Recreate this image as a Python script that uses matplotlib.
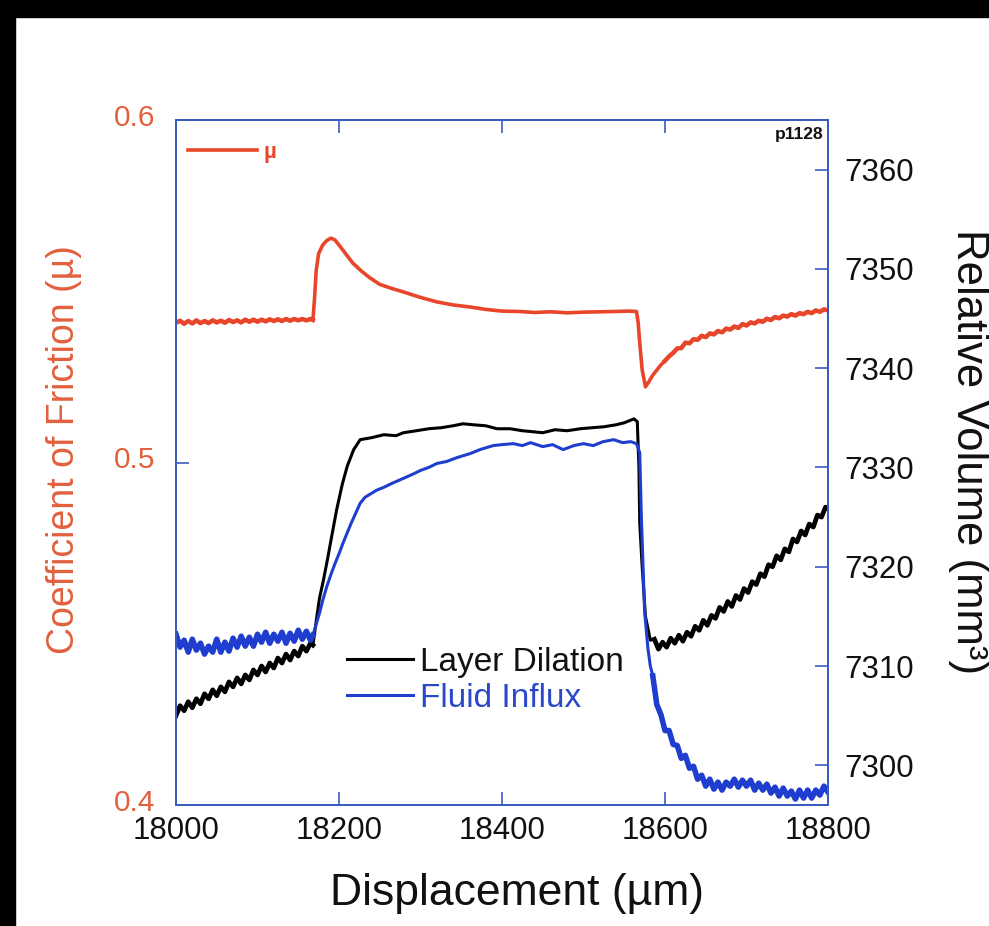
import matplotlib
matplotlib.use("Agg")
import matplotlib.pyplot as plt
from matplotlib.lines import Line2D
from matplotlib.patches import Rectangle
from matplotlib.transforms import ScaledTranslation

plt.rcParams['font.family'] = ['Liberation Sans', 'DejaVu Sans']

# --- friction coefficient (left axis) ---
mu_x = [18000, 18005, 18010, 18015, 18020, 18025, 18030, 18035, 18040, 18045,
        18050, 18055, 18060, 18065, 18070, 18075, 18080, 18085, 18090, 18095,
        18100, 18105, 18110, 18115, 18120, 18125, 18130, 18135, 18140, 18145,
        18150, 18155, 18160, 18165, 18168,
        18170, 18172, 18175, 18180, 18185, 18190, 18195, 18200, 18208, 18217,
        18228, 18238, 18250, 18265, 18279, 18300, 18320, 18340, 18361, 18380,
        18400, 18420, 18440, 18460, 18480, 18500, 18520, 18540, 18555, 18565,
        18567, 18569, 18572, 18576, 18580, 18585, 18590, 18595, 18600,
        18605, 18610, 18615, 18620, 18625, 18630, 18635, 18640, 18645, 18650,
        18655, 18660, 18665, 18670, 18675, 18680, 18685, 18690, 18695, 18700,
        18705, 18710, 18715, 18720, 18725, 18730, 18735, 18740, 18745, 18750,
        18755, 18760, 18765, 18770, 18775, 18780, 18785, 18790, 18795, 18800]
mu_y = [0.5408, 0.5414, 0.5405, 0.5413, 0.5406, 0.5415, 0.5407, 0.5413, 0.5407, 0.5415,
        0.5409, 0.5414, 0.5408, 0.5416, 0.5410, 0.5415, 0.5409, 0.5417, 0.5411, 0.5417,
        0.5411, 0.5417, 0.5412, 0.5418, 0.5413, 0.5418, 0.5413, 0.5419, 0.5414, 0.5419,
        0.5415, 0.5419, 0.5415, 0.5419, 0.5416,
        0.5480, 0.5560, 0.5610, 0.5635, 0.5648, 0.5655, 0.5650, 0.5635, 0.5610, 0.5582,
        0.5558, 0.5539, 0.5520, 0.5508, 0.5498, 0.5482, 0.5469, 0.5460, 0.5454, 0.5447,
        0.5442, 0.5441, 0.5438, 0.5440, 0.5437, 0.5439, 0.5440, 0.5441, 0.5442, 0.5441,
        0.5410, 0.5350, 0.5270, 0.5221, 0.5235, 0.5255, 0.5270, 0.5285, 0.5297,
        0.5310, 0.5320, 0.5333, 0.5334, 0.5350, 0.5348, 0.5360, 0.5358, 0.5370, 0.5366,
        0.5377, 0.5374, 0.5384, 0.5380, 0.5391, 0.5388, 0.5397, 0.5393, 0.5404, 0.5400,
        0.5409, 0.5406, 0.5414, 0.5411, 0.5420, 0.5416, 0.5425, 0.5421, 0.5429, 0.5426,
        0.5433, 0.5429, 0.5436, 0.5433, 0.5440, 0.5436, 0.5444, 0.5440, 0.5447, 0.5444]

# --- layer dilation (right axis) ---
dil_x = [18000, 18005, 18010, 18015, 18020, 18025, 18030, 18035, 18040, 18045,
         18050, 18055, 18060, 18065, 18070, 18075, 18080, 18085, 18090, 18095,
         18100, 18105, 18110, 18115, 18120, 18125, 18130, 18135, 18140, 18145,
         18150, 18155, 18160, 18165, 18168,
         18172, 18176, 18181, 18186, 18190, 18197, 18204, 18210, 18218, 18226,
         18240, 18255, 18270, 18279, 18295, 18310, 18325, 18340, 18352, 18365,
         18380, 18394, 18410, 18425, 18438, 18450, 18465, 18480, 18496, 18510,
         18525, 18540, 18550, 18562, 18566, 18568, 18569, 18572, 18576, 18582,
         18587, 18592, 18597, 18602, 18607, 18612, 18617, 18622, 18627, 18632,
         18637, 18642, 18647, 18652, 18657, 18662, 18667, 18672, 18677, 18682,
         18687, 18692, 18697, 18702, 18707, 18712, 18717, 18722, 18727, 18732,
         18737, 18742, 18747, 18752, 18757, 18762, 18767, 18772, 18777, 18782,
         18787, 18792, 18797, 18800]
dil_y = [7305.0, 7306.0, 7305.5, 7306.4, 7305.8, 7306.7, 7306.2, 7307.2, 7306.7, 7307.6,
         7307.0, 7307.9, 7307.4, 7308.4, 7307.9, 7308.8, 7308.2, 7309.1, 7308.6, 7309.6,
         7309.1, 7310.0, 7309.4, 7310.3, 7309.8, 7310.8, 7310.3, 7311.2, 7310.6, 7311.5,
         7311.0, 7312.0, 7311.5, 7312.3, 7312.1,
         7314.5, 7316.8, 7318.7, 7320.8, 7322.6, 7325.7, 7328.3, 7330.1, 7331.8, 7332.8,
         7333.0, 7333.3, 7333.2, 7333.5, 7333.7, 7333.9, 7334.0, 7334.2, 7334.4, 7334.3,
         7334.2, 7333.9, 7333.9, 7333.7, 7333.6, 7333.5, 7333.8, 7333.7, 7333.9, 7334.0,
         7334.1, 7334.3, 7334.5, 7334.9, 7334.6, 7330.0, 7324.4, 7320.0, 7315.0, 7312.6,
         7312.7, 7311.7, 7312.4, 7311.9, 7312.8, 7312.3, 7313.1, 7312.5, 7313.4, 7313.0,
         7314.0, 7313.6, 7314.6, 7314.1, 7315.1, 7314.8, 7315.9, 7315.5, 7316.5, 7316.0,
         7317.1, 7316.7, 7317.8, 7317.4, 7318.5, 7318.2, 7319.3, 7319.0, 7320.2, 7320.0,
         7321.1, 7320.7, 7321.8, 7321.5, 7322.8, 7322.5, 7323.6, 7323.2, 7324.3, 7324.0,
         7325.2, 7325.0, 7326.0, 7325.9]

# --- fluid influx (right axis) ---
flu_x = [18000, 18005, 18010, 18015, 18020, 18025, 18030, 18035, 18040, 18045,
         18050, 18055, 18060, 18065, 18070, 18075, 18080, 18085, 18090, 18095,
         18100, 18105, 18110, 18115, 18120, 18125, 18130, 18135, 18140, 18145,
         18150, 18155, 18160, 18165, 18168,
         18172, 18176, 18180, 18185, 18190, 18195, 18200, 18205, 18210, 18215,
         18220, 18226, 18232, 18240, 18246, 18255, 18265, 18279, 18290, 18300,
         18310, 18320, 18332, 18345, 18361, 18373, 18389, 18400, 18414, 18425,
         18435, 18450, 18462, 18475, 18488, 18500, 18512, 18524, 18537, 18548,
         18558, 18565, 18569, 18571, 18575, 18579, 18582,
         18585, 18590, 18595, 18600, 18605, 18610, 18615, 18620, 18625, 18630,
         18635, 18640, 18645, 18650, 18655, 18660, 18665, 18670, 18675, 18680,
         18685, 18690, 18695, 18700, 18705, 18710, 18715, 18720, 18725, 18730,
         18735, 18740, 18745, 18750, 18755, 18760, 18765, 18770, 18775, 18780,
         18785, 18790, 18795, 18800]
flu_y = [7313.2, 7311.9, 7312.6, 7311.4, 7312.7, 7311.6, 7312.3, 7311.2, 7312.0, 7311.4,
         7312.7, 7311.4, 7312.4, 7311.5, 7312.8, 7311.9, 7313.0, 7312.0, 7312.9, 7312.0,
         7313.2, 7312.4, 7313.4, 7312.3, 7313.2, 7312.5, 7313.4, 7312.3, 7313.3, 7312.5,
         7313.6, 7312.7, 7313.5, 7312.6, 7313.1,
         7314.2, 7315.3, 7316.6, 7318.0, 7319.2, 7320.3, 7321.3, 7322.4, 7323.4, 7324.4,
         7325.3, 7326.4, 7327.0, 7327.4, 7327.7, 7328.0, 7328.4, 7328.9, 7329.3, 7329.7,
         7330.0, 7330.4, 7330.6, 7331.0, 7331.4, 7331.8, 7332.2, 7332.3, 7332.4, 7332.2,
         7332.5, 7332.1, 7332.3, 7331.8, 7332.2, 7332.4, 7332.2, 7332.6, 7332.8, 7332.5,
         7332.6, 7332.4, 7331.5, 7325.0, 7315.5, 7311.8, 7310.0,
         7309.0, 7306.1, 7305.1, 7303.5, 7303.5, 7302.1, 7302.0, 7300.7, 7301.0, 7299.7,
         7299.9, 7298.6, 7299.0, 7297.9, 7298.6, 7297.6, 7298.3, 7297.5, 7298.3, 7297.9,
         7298.6, 7297.8, 7298.5, 7297.9, 7298.5, 7297.5, 7298.2, 7297.5, 7298.1, 7297.2,
         7297.8, 7296.9, 7297.7, 7296.9, 7297.4, 7296.6, 7297.5, 7296.7, 7297.5, 7296.7,
         7297.5, 7297.0, 7297.9, 7297.3]

x_ticks = [18000, 18200, 18400, 18600, 18800]
mu_ticks = [0.4, 0.5, 0.6]
vol_ticks = [7300, 7310, 7320, 7330, 7340, 7350, 7360]

RED = '#e8462a'
RED_TXT = '#e2603e'
BLUE = '#1f3ecf'
SPINE = '#3a5bbf'


def plot_trace(a, xs, ys, color, lw, lw_noisy, quiet_from, quiet_to):
    # thin line for the whole record, fatter line where the record is noisy
    a.plot(xs, ys, color=color, lw=lw, solid_joinstyle='round')
    lo = [i for i, x in enumerate(xs) if x <= quiet_from]
    hi = [i for i, x in enumerate(xs) if x >= quiet_to]
    for idx in (lo, hi):
        a.plot([xs[i] for i in idx], [ys[i] for i in idx], color=color,
               lw=lw_noisy, solid_joinstyle='round')


fig = plt.figure(figsize=(9.89, 9.26), dpi=100)
# black frame strips at top and left of the original picture
fig.patches.append(Rectangle((0, 1 - 17 / 926), 1, 17 / 926, transform=fig.transFigure,
                             color='black', zorder=0))
fig.patches.append(Rectangle((0, 0), 15 / 989, 1, transform=fig.transFigure,
                             color='black', zorder=0))

ax = fig.add_axes([176 / 989, 121 / 926, 652 / 989, 685 / 926])
ax2 = ax.twinx()

plot_trace(ax, mu_x, mu_y, RED, 2.6, 3.2, 18168, 18600)
plot_trace(ax2, dil_x, dil_y, 'black', 2.2, 3.4, 18168, 18587)
plot_trace(ax2, flu_x, flu_y, BLUE, 2.2, 4.0, 18168, 18585)

ax.set_xlim(18000, 18800)
ax.set_ylim(0.4, 0.6)
ax2.set_ylim(7296.0, 7365.0)

ax.set_xticks(x_ticks)
ax.set_yticks(mu_ticks)
ax.set_yticklabels([f"{t:.1f}" for t in mu_ticks])
ax2.set_yticks(vol_ticks)

ax.tick_params(axis='x', direction='in', length=9.5, width=1.2, color=SPINE,
               top=True, labelsize=22.5, pad=8, labelcolor='#111111')
ax.tick_params(axis='y', direction='in', length=9.5, width=1.2, color=SPINE,
               labelsize=21.5, pad=15, labelcolor=RED_TXT)
ax2.tick_params(axis='y', direction='in', length=9.5, width=1.2, color=SPINE,
                labelsize=22.5, pad=12, labelcolor='#111111')

# the friction labels sit a little above their ticks in the original
lift = ScaledTranslation(0, 5 / 100, fig.dpi_scale_trans)
for lab in ax.get_yticklabels():
    lab.set_transform(lab.get_transform() + lift)

for a in (ax, ax2):
    for s in a.spines.values():
        s.set_color(SPINE)
        s.set_linewidth(1.4)

fig.text(64 / 989, 1 - 450 / 926, 'Coefficient of Friction (µ)', rotation=90,
         ha='center', va='center', fontsize=27, color=RED_TXT)
fig.text(968 / 989, 1 - 452 / 926, 'Relative Volume (mm³)', rotation=270,
         ha='center', va='center', fontsize=31.5, color='#111111')
fig.text(517 / 989, 1 - 893 / 926, 'Displacement (µm)', ha='center', va='center',
         fontsize=32, color='#111111')

ax.text(0.993, 0.99, 'p1128', transform=ax.transAxes, ha='right', va='top',
        fontsize=12.5, fontweight='bold', color='#111111')

leg1 = ax.legend(handles=[Line2D([], [], color=RED, lw=2.6)], labels=['µ'],
                 loc='upper left', bbox_to_anchor=(0.018, 0.968), frameon=False,
                 prop={'size': 16, 'weight': 'bold'}, labelcolor=RED,
                 handlelength=3.1, handletextpad=0.3, borderpad=0, borderaxespad=0)

leg2 = ax2.legend(handles=[Line2D([], [], color='black', lw=2.2),
                           Line2D([], [], color=BLUE, lw=2.2)],
                  labels=['Layer Dilation', 'Fluid Influx'],
                  loc='upper left', bbox_to_anchor=(0.262, 0.231), frameon=False,
                  fontsize=24, labelcolor=['#111111', '#2a48c8'],
                  handlelength=2.0, handletextpad=0.2, labelspacing=0.15,
                  borderpad=0, borderaxespad=0)

fig.savefig('out.png', dpi=100)
